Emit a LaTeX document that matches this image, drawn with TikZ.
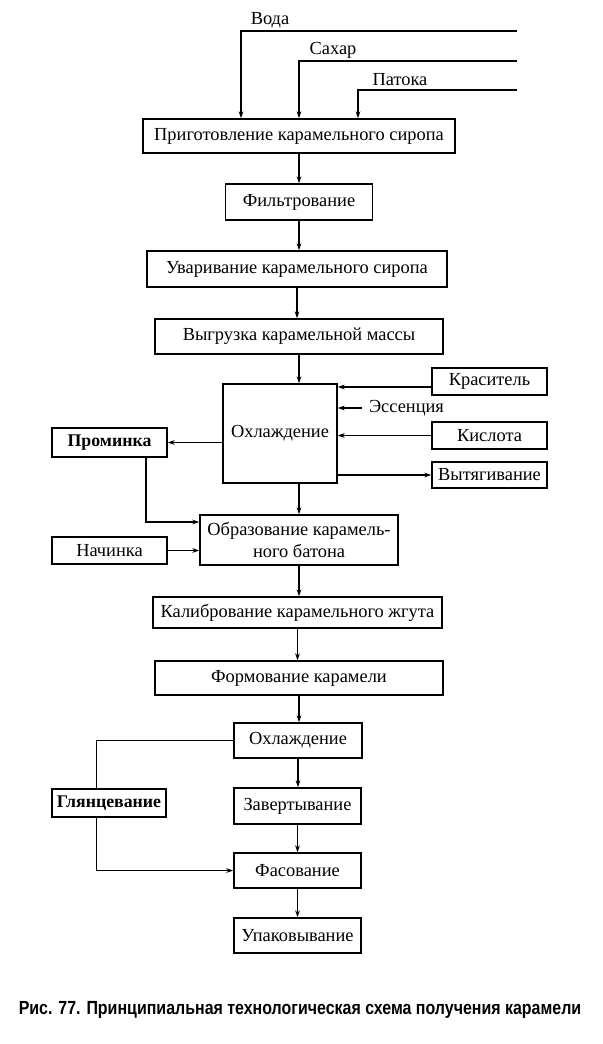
\documentclass[tikz,border=0pt]{standalone}
\usepackage{fontspec}
\setmainfont{Liberation Serif}
\newfontfamily\capfont[FakeStretch=0.84]{Liberation Sans}
\usetikzlibrary{arrows.meta, positioning}

\begin{document}
\begin{tikzpicture}[
    x=0.5pt, y=-0.5pt,
    % Box styles
    stage/.style={draw, line width=0.8pt, inner sep=1pt, font=\fontsize{9.2}{10.6}\selectfont, align=center},
    sidebox/.style={stage, minimum width=57.5pt, minimum height=13.5pt},
    colbox/.style={stage, minimum width=63.5pt, minimum height=17.5pt},
    boldbox/.style={sidebox, font=\bfseries\fontsize{8.9}{10.6}\selectfont},
    feed/.style={font=\fontsize{9.2}{10.6}\selectfont},
    % Connector styles
    flow/.style={-{Stealth[length=3.5pt, width=2.4pt]}, line width=0.6pt},
    plain/.style={line width=0.6pt},
    caption/.style={font=\capfont\bfseries\fontsize{9.5}{11}\selectfont}
]
\useasboundingbox (0,0) rectangle (603,1044);

% Main line of stages
\node[stage, minimum width=156pt, minimum height=17pt] (prep) at (299,136) {Приготовление карамельного сиропа};
\node[stage, minimum width=73.5pt, minimum height=18pt] (filt) at (299,202) {Фильтрование};
\node[stage, minimum width=150pt, minimum height=18pt] (boil) at (297,269) {Уваривание карамельного сиропа};
\node[stage, minimum width=144pt, minimum height=17.5pt] (unload) at (299,336.5) {Выгрузка карамельной массы};
\node[stage, minimum width=57pt, minimum height=49.5pt] (cool) at (280,433.5) {Охлаждение};
\node[stage, minimum width=99pt, minimum height=25pt] (rope) at (299,540) {Образование карамель-\\ного батона};
\node[stage, minimum width=144.5pt, minimum height=15.5pt] (calib) at (297.5,612.5) {Калибрование карамельного жгута};
\node[stage, minimum width=144pt, minimum height=17pt] (shaping) at (299,678) {Формование карамели};
\node[colbox, minimum width=64pt] (cool2) at (298,740.5) {Охлаждение};
\node[colbox, minimum height=18pt] (wrap) at (297.5,806) {Завертывание};
\node[colbox] (pack) at (297.5,870.5) {Фасование};
\node[colbox] (box) at (297.5,935.5) {Упаковывание};

% Side boxes
\node[sidebox] (dye) at (489.5,381.5) {Краситель};
\node[sidebox] (acid) at (489.5,435.5) {Кислота};
\node[sidebox, minimum height=13pt] (pull) at (489.5,475) {Вытягивание};
\node[boldbox, minimum height=14.5pt] (scrap) at (109.5,442.5) {Проминка};
\node[sidebox] (filling) at (109.5,550.5) {Начинка};
\node[boldbox, minimum width=57pt, minimum height=14pt] (gloss) at (109,803) {Глянцевание};

% Raw materials
\coordinate (water) at (517,31);
\coordinate (sugar) at (517,61);
\coordinate (treacle) at (517,90);
\node[feed] (waterlbl) at (270,20) {Вода};
\node[feed] (sugarlbl) at (333,50) {Сахар};
\node[feed] (treaclelbl) at (400,80) {Патока};
\draw[flow] (water) -| ([xshift=-29pt]prep.north);
\draw[flow] (sugar) -| (prep.north);
\draw[flow] (treacle) -| ([xshift=29.5pt]prep.north);

% Essence
\node[feed, anchor=west] (essence) at (362,408) {Эссенция};

% Connections down the main line
\foreach \a/\b in {prep/filt, filt/boil, boil/unload, unload/cool, rope/calib, calib/shaping, shaping/cool2, cool2/wrap, wrap/pack, pack/box} {
    \draw[flow] (\a.south) -- (\a.south |- \b.north);
}
\draw[flow] (rope.north |- cool.south) -- (rope.north);

% Additions to cooling
\draw[flow] ([yshift=-2.75pt]dye.west) -- ([yshift=-2.75pt]dye.west -| cool.east);
\draw[flow] (essence.west) -- (essence.west -| cool.east);
\draw[flow] (acid.west) -- (acid.west -| cool.east);
\draw[flow] (pull.west -| cool.east) -- (pull.west);
\draw[flow] (scrap.east -| cool.west) -- (scrap.east);
\draw[flow] ([xshift=18.25pt]scrap.south) |- ([yshift=9pt]rope.west);
\draw[flow] (filling.east) -- (filling.east -| rope.west);

% Glazing loop
\draw[plain] (cool2.west) -| ([xshift=-6.25pt]gloss.north);
\draw[flow] ([xshift=-6.25pt]gloss.south) |- (pack.west);

% Caption
\node[caption] (figcap) at (300,1010) {Рис. 77. Принципиальная технологическая схема получения карамели};

\end{tikzpicture}
\end{document}
